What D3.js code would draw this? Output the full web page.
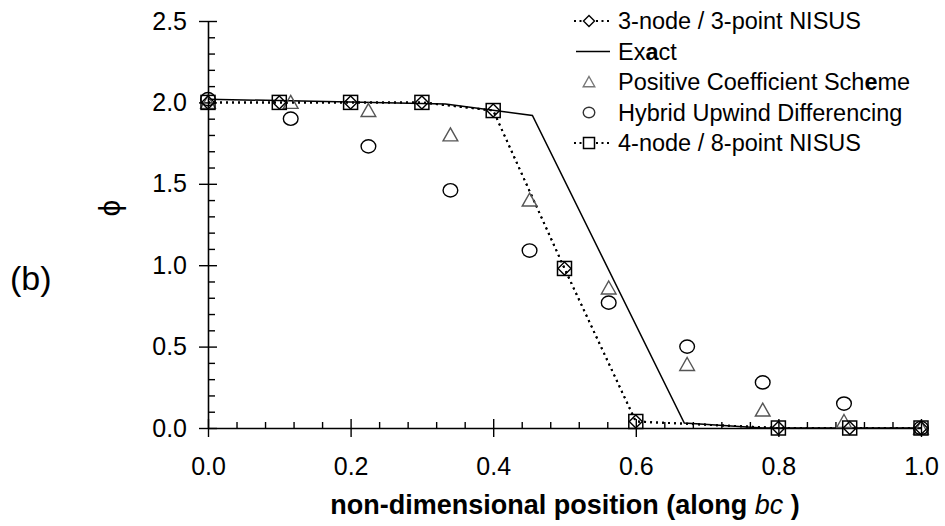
<!DOCTYPE html>
<html>
<head>
<meta charset="utf-8">
<script src="https://cdn.jsdelivr.net/npm/d3@7"></script>
<style>
body { margin:0; background:#fff; }
text { font-family: "Liberation Sans", Arial, sans-serif; fill:#000; }
</style>
</head>
<body>
<script>
var w = 945, h = 526;

// NISUS results (same nodes for both variants)
var nisusX = [0, 0.1, 0.2, 0.3, 0.4, 0.5, 0.6, 0.8, 0.9, 1.0];
var nisus3Y = [2.0, 2.0, 2.0, 2.0, 1.95, 0.98, 0.04, 0.0, 0.0, 0.0];
var nisus4Y = [2.0, 2.0, 2.0, 2.0, 1.95, 0.98, 0.04, 0.0, 0.0, 0.0];

var exactX = [0, 0.333, 0.455, 0.668, 0.778, 1.0];
var exactY = [2.02, 1.99, 1.92, 0.03, 0.0, 0.0];

var schemeX = [0, 0.116, 0.225, 0.34, 0.451, 0.562, 0.672, 0.778, 0.892, 1.0];
var pcsY = [2.0, 2.0, 1.95, 1.80, 1.40, 0.86, 0.39, 0.11, 0.04, 0.0];
var hudY = [2.02, 1.90, 1.73, 1.46, 1.09, 0.77, 0.50, 0.28, 0.15, 0.0];

var xTicks = [0, 0.2, 0.4, 0.6, 0.8, 1.0];
var yTicks = [0, 0.5, 1.0, 1.5, 2.0, 2.5];

var svg = d3.select("body").append("svg")
	.attr("width", w)
	.attr("height", h)

var x = d3.scaleLinear().domain([0, 1]).range([208, 921]);
var y = d3.scaleLinear().domain([0, 2.5]).range([428, 21]);

function zip(xs, ys) {
	return xs.map(function(d, i) { return [d, ys[i]]; });
}

// axes
var xMinor = d3.range(0, 1.0001, 0.04).filter(function(d) { return Math.abs(d * 5 - Math.round(d * 5)) > 1e-6; });
var yMinor = d3.range(0, 2.5001, 0.1).filter(function(d) { return Math.abs(d * 2 - Math.round(d * 2)) > 1e-6; });

function styleAxis(g) {
	g.selectAll("path").attr("stroke", "#000").attr("stroke-width", 1.6);
	g.selectAll("line").attr("stroke", "#000").attr("stroke-width", 1.4);
}

var gx = svg.append("g").attr("transform", "translate(0," + y(0) + ")");
gx.call(d3.axisBottom(x).tickValues(xTicks).tickSize(9).tickSizeOuter(0).tickFormat(d3.format(".1f")).tickPadding(20))
	.call(styleAxis);
gx.selectAll("text").style("font-size", "25px").attr("font-family", null);
gx.append("g").call(d3.axisBottom(x).tickValues(xTicks).tickSize(-9).tickFormat("")).call(styleAxis)
	.select(".domain").remove();
gx.append("g").call(d3.axisBottom(x).tickValues(xMinor).tickSize(-6).tickFormat("")).call(styleAxis)
	.select(".domain").remove();

var gy = svg.append("g").attr("transform", "translate(" + x(0) + ",0)");
gy.call(d3.axisLeft(y).tickValues(yTicks).tickSize(9).tickSizeOuter(0).tickFormat(d3.format(".1f")).tickPadding(12))
	.call(styleAxis);
gy.selectAll("text").style("font-size", "25px").attr("font-family", null);
gy.append("g").call(d3.axisLeft(y).tickValues(yTicks).tickSize(-9).tickFormat("")).call(styleAxis)
	.select(".domain").remove();
gy.append("g").call(d3.axisLeft(y).tickValues(yMinor).tickSize(-7).tickFormat("")).call(styleAxis)
	.select(".domain").remove();

// axis titles
var xt = svg.append("text")
	.attr("x", 565).attr("y", 514)
	.attr("text-anchor", "middle")
	.style("font-size", "27px").style("font-weight", "bold");
xt.append("tspan").text("non-dimensional position (along ");
xt.append("tspan").style("font-weight", "normal").style("font-style", "italic").text("bc");
xt.append("tspan").text(" )");

svg.append("text")
	.attr("transform", "translate(109,208) rotate(-90)")
	.attr("text-anchor", "middle")
	.attr("dy", "0.35em")
	.style("font-size", "30px")
	.text("ϕ");

svg.append("text")
	.attr("x", 10).attr("y", 290)
	.style("font-size", "34px")
	.text("(b)");

// lines
var line = d3.line().x(function(d) { return x(d[0]); }).y(function(d) { return y(d[1]); });

svg.append("path").datum(zip(exactX, exactY))
	.attr("d", line)
	.attr("fill", "none").attr("stroke", "#000").attr("stroke-width", 1.5);

svg.append("path").datum(zip(nisusX, nisus3Y))
	.attr("d", line)
	.attr("fill", "none").attr("stroke", "#000").attr("stroke-width", 2)
	.attr("stroke-dasharray", "2,4");

svg.append("path").datum(zip(nisusX, nisus4Y))
	.attr("d", line)
	.attr("fill", "none").attr("stroke", "#000").attr("stroke-width", 2)
	.attr("stroke-dasharray", "2,4");

// markers
function marker(sel, kind, s) {
	if (kind == "square") {
		sel.append("rect").attr("x", -s).attr("y", -s).attr("width", 2 * s).attr("height", 2 * s)
			.attr("fill", "none").attr("stroke", "#000").attr("stroke-width", 1.5);
	} else if (kind == "diamond") {
		sel.append("path").attr("d", "M0," + (-s) + "L" + s + ",0L0," + s + "L" + (-s) + ",0Z")
			.attr("fill", "none").attr("stroke", "#000").attr("stroke-width", 1.4);
	} else if (kind == "triangle") {
		sel.append("path").attr("d", "M0," + (-s) + "L" + (s * 1.05) + "," + (s * 0.85) + "L" + (-s * 1.05) + "," + (s * 0.85) + "Z")
			.attr("fill", "none").attr("stroke", "#555").attr("stroke-width", 1.4);
	} else if (kind == "circle") {
		sel.append("ellipse").attr("rx", s * 1.05).attr("ry", s * 0.95)
			.attr("fill", "none").attr("stroke", "#000").attr("stroke-width", 1.4);
	}
}

function drawPoints(xs, ys, kind, s) {
	svg.append("g").selectAll("g")
		.data(zip(xs, ys))
		.enter()
		.append("g")
		.attr("transform", function(d) { return "translate(" + x(d[0]) + "," + y(d[1]) + ")"; })
		.each(function() { marker(d3.select(this), kind, s); });
}

drawPoints(schemeX, pcsY, "triangle", 7);
drawPoints(schemeX, hudY, "circle", 7);
drawPoints(nisusX, nisus4Y, "square", 7);
drawPoints(nisusX, nisus3Y, "diamond", 6.5);

// legend
var legRows = [
	{ label: ["3-node / 3-point NISUS"], kind: "diamond", dash: true },
	{ label: ["Ex", "a", "ct"], kind: null, solid: true },
	{ label: ["Positive Coefficient Sch", "e", "me"], kind: "triangle" },
	{ label: ["Hybrid Upwind Differencing"], kind: "circle" },
	{ label: ["4-node / 8-point NISUS"], kind: "square", dash: true }
];

var legend = svg.append("g");
legRows.forEach(function(r, i) {
	var yy = 21 + i * 30.5;
	var g = legend.append("g").attr("transform", "translate(0," + yy + ")");
	if (r.dash) {
		g.append("line").attr("x1", 574).attr("x2", 612).attr("y1", 0).attr("y2", 0)
			.attr("stroke", "#000").attr("stroke-width", 1.8).attr("stroke-dasharray", "2,3.5");
	}
	if (r.solid) {
		g.append("line").attr("x1", 576).attr("x2", 610).attr("y1", 0).attr("y2", 0)
			.attr("stroke", "#000").attr("stroke-width", 1.3);
	}
	if (r.kind) {
		var m = g.append("g").attr("transform", "translate(589,0)");
		if (r.kind == "diamond" || r.kind == "square") {
			m.append("rect").attr("x", -6).attr("y", -6).attr("width", 12).attr("height", 12).attr("fill", "#fff");
		}
		marker(m, r.kind, 5.5);
		if (r.kind == "triangle") m.select("path").attr("stroke", "#777");
		if (r.kind == "circle") m.select("ellipse").attr("stroke", "#333");
	}
	var t = g.append("text").attr("x", 618).attr("dy", "0.36em").style("font-size", "23.5px");
	r.label.forEach(function(s, j) {
		var sp = t.append("tspan").text(s);
		if (r.label.length > 1 && j == 1) sp.style("font-weight", "bold");
	});
});
</script>
</body>
</html>
